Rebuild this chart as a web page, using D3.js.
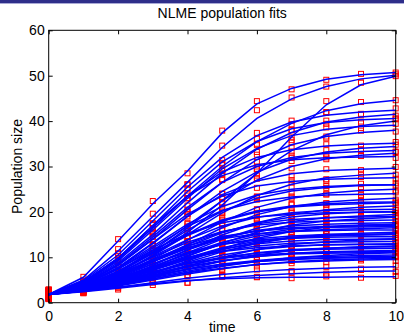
<!DOCTYPE html>
<html>
<head>
<meta charset="utf-8">
<script src="https://cdn.jsdelivr.net/npm/d3@7"></script>
<style>
  body { margin: 0; background: #fff; }
  svg { display: block; font-family: Helvetica, Arial, "Liberation Sans", sans-serif; }
</style>
</head>
<body>
<svg width="404" height="336"></svg>
<script>
const times = [0, 1, 2, 3, 4, 5, 6, 7, 8, 9, 10];
const xTicks = [0, 2, 4, 6, 8, 10];
const yTicks = [0, 10, 20, 30, 40, 50, 60];

// fitted curves, one row per subject, values at each time
const fits = [
  [1.8,5.6,13.6,21.8,29.0,37.4,43.8,47.2,49.2,50.2,50.7],
  [1.8,5.0,11.4,19.0,26.5,34.2,40.6,44.9,47.6,49.3,50.1],
  [1.8,3.4,6.2,10.5,15.5,21.5,28.5,36.5,43.6,48.0,49.9],
  [1.8,4.6,9.8,16.5,23.5,30.0,35.5,39.5,42.3,43.8,44.6],
  [1.8,4.8,10.5,18.0,25.5,32.0,36.8,39.8,41.3,42.0,42.4],
  [1.8,4.2,8.8,15.0,22.0,28.5,33.8,37.5,39.8,40.9,41.5],
  [1.8,4.5,9.8,17.0,24.5,31.0,35.5,38.3,39.7,40.3,40.6],
  [1.8,3.5,6.5,11.0,16.5,22.5,28.5,33.5,37.0,39.0,40.0],
  [1.8,4.3,9.2,16.0,23.0,29.5,34.0,36.8,38.2,38.8,39.1],
  [1.8,4.0,8.2,14.0,20.5,26.5,31.5,34.8,36.6,37.5,38.0],
  [1.8,4.4,9.5,16.5,23.5,28.8,32.0,33.7,34.5,34.9,35.1],
  [1.8,3.8,7.6,13.0,19.0,24.5,28.8,31.6,33.2,34.0,34.4],
  [1.8,4.1,8.5,14.5,21.0,26.5,30.0,32.0,32.9,33.3,33.5],
  [1.8,3.6,6.8,11.5,17.0,22.5,27.0,30.0,31.7,32.5,32.9],
  [1.8,4.5,9.8,17.0,23.5,28.0,30.4,31.5,31.9,32.1,32.2],
  [1.8,3.9,7.8,13.2,19.0,23.8,26.8,28.4,29.1,29.4,29.6],
  [1.8,3.4,6.2,10.3,15.0,19.8,23.6,26.1,27.5,28.1,28.5],
  [1.8,4.0,8.3,14.0,19.5,23.5,25.7,26.7,27.2,27.4,27.5],
  [1.8,3.6,6.8,11.2,16.0,20.2,23.0,24.6,25.4,25.8,26.0],
  [1.8,3.9,7.6,12.4,17.3,21.2,23.7,25.0,25.6,25.9,26.0],
  [1.8,3.3,5.9,9.6,13.8,17.8,21.0,23.0,24.1,24.7,25.0],
  [1.8,3.8,7.4,12.0,16.8,20.3,22.3,23.3,23.7,23.9,24.0],
  [1.8,3.2,5.6,9.0,12.8,16.5,19.4,21.2,22.2,22.7,23.0],
  [1.8,3.7,7.0,11.0,15.0,18.2,20.2,21.3,21.8,22.1,22.2],
  [1.8,3.6,6.8,10.8,14.8,18.0,20.0,21.1,21.6,21.8,22.0],
  [1.8,3.1,5.2,8.2,11.6,14.9,17.6,19.4,20.5,21.0,21.3],
  [1.8,3.5,6.4,10.2,13.9,16.9,18.8,19.8,20.3,20.5,20.6],
  [1.8,3.3,5.8,9.0,12.4,15.4,17.6,18.9,19.6,19.9,20.1],
  [1.8,3.9,7.4,11.6,15.2,17.6,18.9,19.5,19.8,19.9,20.0],
  [1.8,3.0,5.0,7.8,11.0,14.0,16.4,17.9,18.7,19.1,19.4],
  [1.8,3.4,6.0,9.4,12.8,15.6,17.4,18.3,18.7,18.9,19.0],
  [1.8,2.9,4.7,7.2,10.2,13.1,15.5,17.1,18.0,18.5,18.8],
  [1.8,3.6,6.5,10.0,13.3,15.7,17.1,17.7,18.0,18.1,18.2],
  [1.8,3.2,5.5,8.5,11.6,14.2,15.9,16.9,17.3,17.5,17.6],
  [1.8,2.8,4.4,6.6,9.2,11.9,14.2,15.7,16.6,17.0,17.3],
  [1.8,3.1,5.2,7.9,10.8,13.3,15.1,16.2,16.8,17.1,17.2],
  [1.8,3.4,5.9,9.0,12.0,14.4,15.8,16.5,16.8,16.9,17.0],
  [1.8,3.6,6.3,9.5,12.5,14.6,15.8,16.4,16.6,16.7,16.8],
  [1.8,3.0,5.0,7.6,10.4,12.9,14.7,15.7,16.1,16.3,16.5],
  [1.8,3.5,6.1,9.2,12.1,14.1,15.2,15.7,15.9,16.0,16.0],
  [1.8,2.8,4.4,6.5,8.9,11.2,13.1,14.3,15.0,15.3,15.5],
  [1.8,3.2,5.3,8.0,10.7,12.8,14.1,14.7,15.0,15.1,15.2],
  [1.8,2.9,4.8,7.1,9.5,11.7,13.3,14.2,14.7,14.9,15.1],
  [1.8,3.0,4.9,7.3,9.9,12.1,13.6,14.4,14.8,14.9,15.0],
  [1.8,3.4,5.8,8.6,11.1,12.9,13.8,14.2,14.4,14.5,14.5],
  [1.8,3.2,5.2,7.6,9.9,11.8,13.0,13.6,13.9,14.0,14.1],
  [1.8,2.7,4.1,5.9,8.0,10.0,11.7,12.8,13.4,13.8,14.0],
  [1.8,3.1,5.0,7.3,9.6,11.4,12.5,13.1,13.3,13.4,13.5],
  [1.8,2.9,4.6,6.6,8.7,10.5,11.7,12.4,12.8,12.9,13.0],
  [1.8,3.3,5.5,7.9,9.9,11.3,12.1,12.5,12.7,12.8,12.8],
  [1.8,2.7,4.0,5.6,7.4,9.1,10.5,11.5,12.0,12.3,12.5],
  [1.8,2.8,4.4,6.3,8.2,9.8,11.0,11.7,12.0,12.2,12.3],
  [1.8,3.0,4.7,6.7,8.6,10.0,10.9,11.5,11.8,11.9,12.0],
  [1.8,2.8,4.3,6.1,7.8,9.2,10.2,10.9,11.2,11.4,11.5],
  [1.8,3.1,4.9,6.9,8.6,9.8,10.5,10.9,11.1,11.2,11.2],
  [1.8,3.0,4.6,6.4,8.0,9.3,10.2,10.7,10.9,11.0,11.1],
  [1.8,2.6,3.8,5.2,6.7,8.0,9.1,9.9,10.4,10.8,11.0],
  [1.8,2.8,4.2,5.8,7.3,8.5,9.3,9.9,10.2,10.4,10.5],
  [1.8,2.7,4.0,5.5,7.0,8.2,9.1,9.6,9.9,10.1,10.2],
  [1.8,2.9,4.4,6.0,7.4,8.4,9.1,9.5,9.8,9.9,10.0],
  [1.8,2.6,3.7,5.0,6.3,7.5,8.4,9.0,9.4,9.6,9.8],
  [1.8,2.7,3.9,5.3,6.6,7.6,8.4,8.9,9.2,9.4,9.5],
  [1.8,2.5,3.4,4.4,5.4,6.2,6.9,7.3,7.6,7.8,7.9],
  [1.8,2.4,3.2,4.0,4.8,5.5,6.0,6.4,6.7,6.9,7.0],
  [1.8,2.6,3.4,4.2,4.9,5.3,5.5,5.6,5.6,5.7,5.7]
];

// observed population sizes, same subjects and times
const observed = [
  [2.6,5.7,14.0,22.4,28.5,37.9,44.4,47.0,49.1,50.4,50.7],
  [1.2,4.7,11.8,19.6,26.0,34.6,42.4,45.2,47.6,48.5,49.9],
  [2.1,3.0,6.6,10.1,16.2,21.0,29.4,35.8,44.4,48.5,50.3],
  [0.9,4.9,9.4,17.1,23.0,30.8,35.0,40.1,42.0,44.2,44.6],
  [2.3,4.4,10.9,17.4,26.1,31.4,37.4,39.3,41.8,41.6,42.8],
  [1.5,4.6,8.4,15.6,21.4,29.2,33.2,38.0,39.4,41.4,41.2],
  [2.8,4.1,10.3,16.4,25.2,30.5,36.1,38.0,40.1,39.9,40.6],
  [1.0,3.8,6.1,11.7,15.8,23.1,28.0,34.2,36.6,39.5,40.4],
  [1.9,4.0,9.7,15.4,23.6,29.0,34.7,36.4,38.6,38.5,39.4],
  [2.4,4.3,7.8,14.6,20.0,27.2,31.0,35.3,36.2,37.9,37.7],
  [1.3,4.0,9.9,15.9,24.1,28.3,32.6,33.3,34.9,34.6,35.4],
  [2.0,3.5,8.0,12.5,19.6,24.0,29.4,31.2,33.6,33.8,34.8],
  [1.1,4.4,8.1,15.1,20.5,27.0,29.5,32.4,32.6,33.6,33.2],
  [2.7,3.3,7.2,11.0,17.6,22.0,27.5,29.6,32.0,32.3,33.3],
  [1.6,4.8,9.4,17.5,23.0,28.5,30.0,31.9,31.6,32.4,31.9],
  [2.2,3.6,8.2,12.7,19.5,23.3,27.3,28.0,29.4,29.2,29.9],
  [0.8,3.7,5.8,10.8,14.5,20.3,23.1,26.5,27.2,28.4,28.2],
  [2.5,4.3,7.9,14.5,19.0,24.0,25.3,27.0,26.9,27.7,27.3],
  [1.4,3.3,7.2,10.7,16.5,19.7,23.4,24.3,25.7,25.5,26.3],
  [1.9,4.2,7.2,12.9,16.8,21.7,23.3,25.4,25.3,26.2,25.8],
  [2.9,3.6,5.5,10.1,13.3,18.3,20.6,23.4,23.8,25.0,24.7],
  [1.7,3.5,7.8,11.5,17.3,19.8,22.7,23.0,24.0,23.7,24.3],
  [1.0,3.5,5.2,9.5,12.3,17.0,19.0,21.6,21.9,23.0,22.7],
  [1.3,4.0,6.6,11.6,14.5,18.8,19.8,21.7,21.5,22.4,22.0],
  [2.3,3.3,7.2,10.3,15.3,17.5,20.4,20.8,21.9,21.6,22.3],
  [1.5,2.8,5.6,7.7,12.1,14.4,18.0,19.1,20.8,20.8,21.6],
  [2.6,3.8,6.0,10.7,13.4,17.4,18.4,20.1,20.0,20.8,20.4],
  [2.5,3.0,6.2,8.6,12.9,15.0,18.1,18.6,19.9,19.7,20.4],
  [1.2,4.2,7.0,12.1,14.7,18.1,18.6,19.8,19.5,20.2,19.8],
  [2.0,2.7,5.4,7.3,11.5,13.5,16.8,17.6,19.0,18.9,19.7],
  [0.9,3.7,5.6,9.9,12.3,16.1,17.0,18.6,18.4,19.2,18.8],
  [2.4,2.6,5.1,6.7,10.7,12.6,15.9,16.8,18.3,18.3,19.1],
  [1.6,3.9,6.1,10.5,12.8,16.2,16.7,18.0,17.7,18.4,18.0],
  [2.8,2.9,5.9,8.0,12.1,13.7,16.3,16.6,17.6,17.3,17.9],
  [1.3,3.1,4.0,7.1,8.7,12.4,13.8,16.0,16.3,17.3,17.0],
  [1.0,3.4,4.8,8.3,10.4,13.8,14.7,16.5,16.6,17.4,17.0],
  [2.1,3.1,6.3,8.5,12.5,13.9,16.2,16.2,17.1,16.7,17.3],
  [2.2,3.3,6.7,9.1,13.0,14.2,16.2,16.1,16.9,16.5,17.0],
  [1.0,3.3,4.6,8.1,9.9,13.4,14.3,16.0,15.8,16.6,16.2],
  [2.5,3.2,6.5,8.7,12.6,13.6,15.6,15.4,16.2,15.8,16.3],
  [1.8,2.5,4.8,6.0,9.4,10.7,13.5,14.0,15.3,15.1,15.8],
  [1.1,3.5,4.9,8.5,10.2,13.3,13.7,15.0,14.7,15.4,14.9],
  [1.6,3.2,4.5,7.5,9.1,12.1,13.0,14.5,14.5,15.2,14.9],
  [2.7,2.7,5.3,6.8,10.4,11.6,14.0,14.1,15.1,14.7,15.3],
  [1.4,3.7,5.4,9.1,10.6,13.4,13.4,14.5,14.1,14.8,14.2],
  [2.7,2.9,5.6,7.2,10.3,11.4,13.4,13.4,14.2,13.8,14.3],
  [2.2,2.4,4.5,5.4,8.5,9.5,12.1,12.5,13.7,13.5,14.3],
  [0.8,3.4,4.6,7.8,9.1,11.9,12.1,13.4,13.0,13.7,13.2],
  [2.4,2.6,5.0,6.1,9.2,10.0,12.1,12.1,13.1,12.6,13.3],
  [1.5,3.6,5.1,8.4,9.4,11.8,11.7,12.8,12.4,13.1,12.5],
  [2.9,2.4,4.4,5.1,7.9,8.6,10.9,11.2,12.3,12.0,12.8],
  [1.2,3.1,4.1,6.7,7.9,10.2,10.7,12.0,11.8,12.5,12.1],
  [1.2,3.3,4.3,7.2,8.1,10.5,10.5,11.8,11.5,12.2,11.7],
  [2.0,2.5,4.7,5.6,8.3,8.7,10.6,10.6,11.5,11.1,11.8],
  [0.9,3.4,4.5,7.4,8.1,10.3,10.1,11.2,10.8,11.5,10.9],
  [2.4,2.7,5.0,6.1,8.4,9.0,10.5,10.5,11.2,10.8,11.3],
  [2.6,2.3,4.2,4.7,7.2,7.5,9.5,9.6,10.7,10.5,11.3],
  [1.6,3.1,3.8,6.3,6.8,9.0,8.9,10.2,9.9,10.7,10.2],
  [0.9,3.0,3.7,5.9,6.7,8.6,8.8,9.9,9.7,10.4,10.0],
  [2.3,3.2,4.8,5.5,7.9,7.9,9.5,9.2,10.1,9.6,10.3],
  [1.1,2.3,4.1,4.5,6.8,7.0,8.8,8.7,9.7,9.3,10.1],
  [2.8,3.0,3.5,5.8,6.1,8.1,8.0,9.2,8.9,9.7,9.2],
  [1.4,2.2,3.8,3.9,5.9,5.7,7.3,7.0,7.9,7.5,8.2],
  [2.0,2.1,2.9,4.5,4.4,6.0,5.6,6.7,6.4,7.2,6.8],
  [1.7,2.1,3.2,4.5,4.4,6.1,5.7,5.4,5.8,5.5,5.9]
];

const svg = d3.select('svg');
const width = +svg.attr('width');
const height = +svg.attr('height');

const plotLeft = 48.7, plotRight = 395.7, plotTop = 30.3, plotBottom = 302.7;

const x = d3.scaleLinear().domain([0, 10]).range([plotLeft, plotRight]);
const y = d3.scaleLinear().domain([0, 60]).range([plotBottom, plotTop]);

// slide header band
svg.append('rect')
  .attr('x', 0).attr('y', 0)
  .attr('width', width).attr('height', 3)
  .attr('fill', '#2e2e8a');
svg.append('rect')
  .attr('x', 0).attr('y', 3)
  .attr('width', width).attr('height', 1)
  .attr('fill', '#a9a9d6');

// observed data squares
const sq = 5;
svg.append('g')
  .selectAll('g')
  .data(observed)
  .join('g')
  .selectAll('rect')
  .data(d => d.map((v, i) => [times[i], v]))
  .join('rect')
  .attr('x', d => x(d[0]) - sq / 2)
  .attr('y', d => y(d[1]) - sq / 2)
  .attr('width', sq)
  .attr('height', sq)
  .attr('fill', 'none')
  .attr('stroke', '#ff0000')
  .attr('stroke-width', 1);

// fitted curves
const line = d3.line()
  .x((d, i) => x(times[i]))
  .y(d => y(d));

svg.append('g')
  .selectAll('path')
  .data(fits)
  .join('path')
  .attr('d', line)
  .attr('fill', 'none')
  .attr('stroke', '#0000ff')
  .attr('stroke-width', 1.5);

// axes, ticks inside like matlab
const tickLen = 4;
const xAxis = svg.append('g')
  .attr('transform', `translate(0,${plotBottom})`)
  .call(d3.axisBottom(x).tickValues(xTicks).tickSizeInner(-tickLen).tickSizeOuter(0).tickPadding(8));
const yAxis = svg.append('g')
  .attr('transform', `translate(${plotLeft},0)`)
  .call(d3.axisLeft(y).tickValues(yTicks).tickSizeInner(-tickLen).tickSizeOuter(0).tickPadding(4));
const xTop = svg.append('g')
  .attr('transform', `translate(0,${plotTop})`)
  .call(d3.axisTop(x).tickValues(xTicks).tickSizeInner(-tickLen).tickSizeOuter(0).tickFormat(''));
const yRight = svg.append('g')
  .attr('transform', `translate(${plotRight},0)`)
  .call(d3.axisRight(y).tickValues(yTicks).tickSizeInner(-tickLen).tickSizeOuter(0).tickFormat(''));

[xAxis, yAxis, xTop, yRight].forEach(a => {
  a.select('.domain').remove();
  a.selectAll('line').attr('stroke', '#000');
  a.selectAll('text')
    .attr('fill', '#000')
    .style('font-size', '14px')
    .style('font-family', 'Helvetica, Arial, "Liberation Sans", sans-serif');
});

svg.append('rect')
  .attr('x', plotLeft).attr('y', plotTop)
  .attr('width', plotRight - plotLeft).attr('height', plotBottom - plotTop)
  .attr('fill', 'none')
  .attr('stroke', '#000')
  .attr('stroke-width', 1);

// labels
svg.append('text')
  .attr('x', (plotLeft + plotRight) / 2)
  .attr('y', 18)
  .attr('text-anchor', 'middle')
  .style('font-size', '14px')
  .text('NLME population fits');

svg.append('text')
  .attr('x', (plotLeft + plotRight) / 2)
  .attr('y', 332)
  .attr('text-anchor', 'middle')
  .style('font-size', '14px')
  .text('time');

svg.append('text')
  .attr('transform', `translate(22,${(plotTop + plotBottom) / 2}) rotate(-90)`)
  .attr('text-anchor', 'middle')
  .style('font-size', '14px')
  .text('Population size');
</script>
</body>
</html>
